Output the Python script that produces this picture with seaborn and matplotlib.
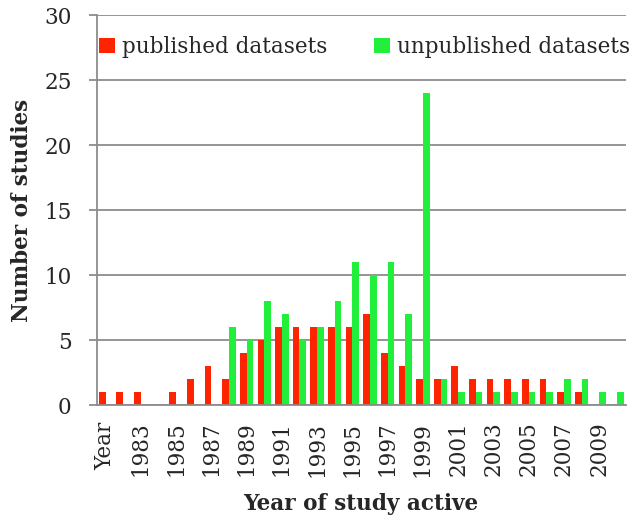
import pandas as pd
import numpy as np
import seaborn as sns
import matplotlib.pyplot as plt

# data
years = ['Year'] + [str(y) for y in range(1982, 2011)]
published = [1, 1, 1, 0, 1, 2, 3, 2, 4, 5, 6, 6, 6, 6, 6, 7, 4, 3, 2, 2,
             3, 2, 2, 2, 2, 2, 1, 1, 0, 0]
unpublished = [0, 0, 0, 0, 0, 0, 0, 6, 5, 8, 7, 5, 6, 8, 11, 10, 11, 7, 24, 2,
               1, 1, 1, 1, 1, 1, 2, 2, 1, 1]
series = ['published datasets', 'unpublished datasets']
colors = ['#FF2400', '#22EE3C']

df = pd.DataFrame({
    'year': years * 2,
    'count': published + unpublished,
    'type': [series[0]] * len(years) + [series[1]] * len(years),
})

sns.set_style('white')
plt.rcParams['font.family'] = ['DejaVu Serif']

fig = plt.figure(figsize=(6.38, 5.24), dpi=100)
ax = fig.add_axes([0.1516, 0.227, 0.829, 0.744])

sns.barplot(data=df, x='year', y='count', hue='type', order=years,
            hue_order=series, palette=colors, width=0.76, gap=0,
            saturation=1, linewidth=0, ax=ax)

# axes styling
ax.set_ylim(0, 30)
ax.set_xlim(-0.5, len(years) - 0.5)
ax.set_yticks(range(0, 31, 5))
ax.yaxis.grid(True, color='#8c8c8c', linewidth=1.3)
ax.set_axisbelow(True)
for s in ['top', 'right']:
    ax.spines[s].set_visible(False)
for s in ['left', 'bottom']:
    ax.spines[s].set_color('#8c8c8c')
    ax.spines[s].set_linewidth(1.3)

ax.set_xticks(range(0, len(years), 2))
ax.set_xticklabels(years[::2], rotation=90, fontsize=15.5)
ax.set_xticks(np.arange(-0.5, len(years), 1), minor=True)
ax.tick_params(axis='x', which='major', length=0, pad=12)
ax.tick_params(axis='x', which='minor', length=5, color='#8c8c8c', width=1.3)
ax.tick_params(axis='y', length=6, color='#8c8c8c', width=1.3, labelsize=15.5, pad=12, left=True)

ax.set_xlabel('Year of study active', fontsize=15.5, fontweight='bold', labelpad=12)
ax.set_ylabel('Number of studies', fontsize=15.5, fontweight='bold', labelpad=8)

ax.legend(loc='upper left', bbox_to_anchor=(99 / 638, 1 - 36 / 524),
          bbox_transform=fig.transFigure, ncol=2, frameon=False,
          fontsize=15.5, handlelength=0.75, handleheight=0.75, handletextpad=0.3,
          columnspacing=2.2, borderaxespad=0, borderpad=0)

fig.savefig('out.png', dpi=100)
